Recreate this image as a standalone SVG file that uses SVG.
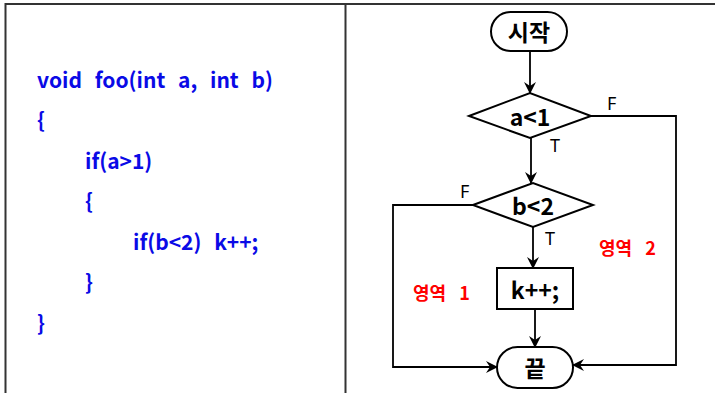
<svg xmlns="http://www.w3.org/2000/svg" width="715" height="393" viewBox="0 0 715 393">
<style>
.frame{stroke:#333;stroke-width:2;fill:none}
.code{font-family:"Noto Sans CJK KR","Noto Sans",sans-serif;font-weight:bold;font-size:21px;fill:#0a0ae6;word-spacing:8px}
.shape{fill:#fff;stroke:#000;stroke-width:2}
.lbl{font-family:"Noto Sans CJK KR","Noto Sans",sans-serif;font-weight:bold;font-size:23px;fill:#000;text-anchor:middle;dominant-baseline:central}
.tf{font-family:"Noto Sans","DejaVu Sans",sans-serif;font-size:18px;fill:#000}
.area{font-family:"Noto Sans CJK KR","Noto Sans",sans-serif;font-weight:bold;font-size:18px;fill:#f00;word-spacing:9px}
.conn{fill:none;stroke:#000;stroke-width:1.8}
</style>
<defs>
<marker id="ah" markerWidth="12" markerHeight="12" refX="11" refY="6" orient="auto" markerUnits="userSpaceOnUse">
<path d="M0,0 L12,6 L0,12 L4,6 z" fill="#000"/>
</marker>
</defs>
<g id="table">
<line class="frame" x1="5" y1="4" x2="715" y2="4"/>
<line class="frame" x1="5.5" y1="3" x2="5.5" y2="393"/>
<line class="frame" x1="345.5" y1="4" x2="345.5" y2="393"/>
</g>
<g id="code">
<text class="code" x="37" y="88">void foo(int a, int b)</text>
<text class="code" x="37" y="128">{</text>
<text class="code" x="85" y="169">if(a&gt;1)</text>
<text class="code" x="85" y="209">{</text>
<text class="code" x="133" y="250">if(b&lt;2) k++;</text>
<text class="code" x="85" y="290">}</text>
<text class="code" x="37" y="331">}</text>
</g>
<g id="connectors">
<line class="conn" x1="530" y1="51" x2="530" y2="93" marker-end="url(#ah)"/>
<line class="conn" x1="531" y1="138" x2="531" y2="183" marker-end="url(#ah)"/>
<line class="conn" x1="533" y1="227" x2="533" y2="268" marker-end="url(#ah)"/>
<line class="conn" x1="535" y1="309" x2="535" y2="347" marker-end="url(#ah)"/>
<polyline class="conn" points="591,116 676,116 676,365 573,365" marker-end="url(#ah)"/>
<polyline class="conn" points="473,205 393,205 393,367 497,367" marker-end="url(#ah)"/>
</g>
<g id="start">
<rect class="shape" x="491" y="12" width="76" height="39" rx="19.5"/>
<text class="lbl" x="529" y="31">시작</text>
</g>
<g id="cond1">
<polygon class="shape" points="469,116 530,93 591,116 530,138"/>
<text class="lbl" x="530" y="116">a&lt;1</text>
<text class="tf" x="607" y="110">F</text>
<text class="tf" x="550" y="152">T</text>
</g>
<g id="cond2">
<polygon class="shape" points="473,205 533,183 593,205 533,227"/>
<text class="lbl" x="533" y="205">b&lt;2</text>
<text class="tf" x="460" y="198">F</text>
<text class="tf" x="545" y="245">T</text>
</g>
<g id="inc">
<rect class="shape" x="497" y="268" width="76" height="41"/>
<text class="lbl" x="535" y="289">k++;</text>
</g>
<g id="end">
<rect class="shape" x="497" y="347" width="76" height="41" rx="20.5"/>
<text class="lbl" x="535" y="367">끝</text>
</g>
<g id="areas">
<text class="area" x="413" y="300">영역 1</text>
<text class="area" x="599" y="255">영역 2</text>
</g>
</svg>
